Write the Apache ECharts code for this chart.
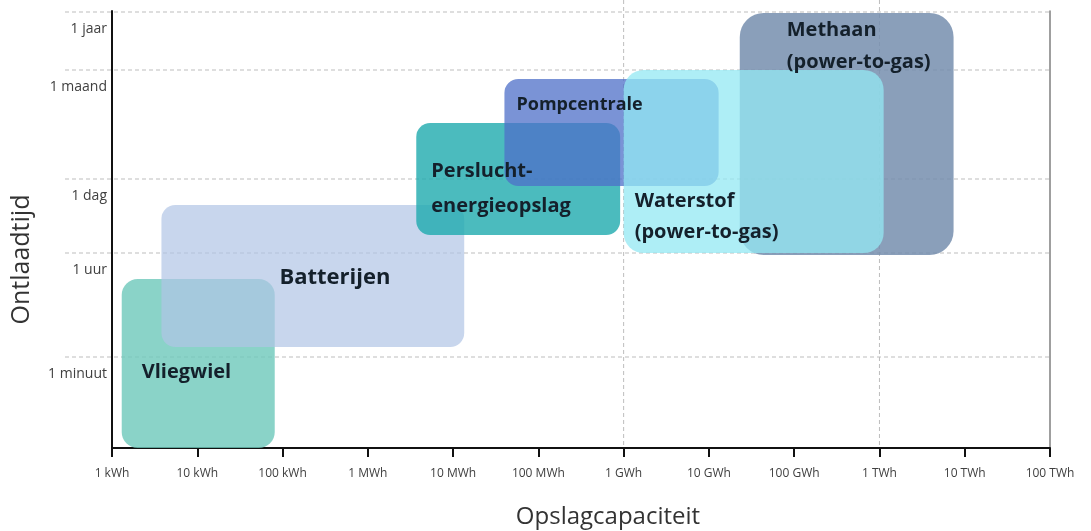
<!DOCTYPE html>
<html>
<head>
<meta charset="utf-8">
<script src="https://cdn.jsdelivr.net/npm/echarts@6/dist/echarts.min.js"></script>
<style>
  html, body { margin: 0; padding: 0; background: #fff; }
  #chart { width: 1091px; height: 531px; }
</style>
</head>
<body>
<div id="chart"></div>
<script>
// storage technologies, in drawing order
const techNames = [
  "Vliegwiel",
  "Batterijen",
  "Perslucht-\nenergieopslag",
  "Methaan\n(power-to-gas)",
  "Pompcentrale",
  "Waterstof\n(power-to-gas)",
];
// storage capacity range in kWh
const capMin = [1.3, 3.8, 3700, 2.3e7, 4.0e4, 1.0e6];
const capMax = [81, 1.35e4, 9.1e5, 7.4e9, 1.3e7, 1.12e9];
// discharge time range, in units of the (non-uniform) time scale
const timeMin = [0, 101, 213, 193, 262, 195];
const timeMax = [169, 243, 325, 435, 369, 378];

// axis ticks
const capLabels = [
  "1 kWh", "10 kWh", "100 kWh", "1 MWh", "10 MWh", "100 MWh",
  "1 GWh", "10 GWh", "100 GWh", "1 TWh", "10 TWh", "100 TWh",
];
const timeLabels = ["1 minuut", "1 uur", "1 dag", "1 maand", "1 jaar"];
const timeLevels = [91, 195, 269, 378, 436];
const capGridLines = [1e6, 1e9]; // dashed verticals at 1 GWh and 1 TWh

// look of each box: fill, corner radius, label font size, label offset from top-left
const boxStyle = [
  { color: "rgba(109,200,186,0.8)", r: 16, size: 20, dx: 20, dy: 80, lh: 26 },
  { color: "rgba(176,196,229,0.7)", r: 14, size: 22, dx: 118, dy: 59, lh: 28 },
  { color: "rgba(30,170,174,0.8)", r: 14, size: 20, dx: 15, dy: 31, lh: 35 },
  { color: "rgba(117,142,174,0.85)", r: 24, size: 20, dx: 47, dy: 1, lh: 32 },
  { color: "rgba(78,111,200,0.75)", r: 14, size: 18, dx: 12, dy: 14, lh: 24 },
  { color: "rgba(147,232,243,0.75)", r: 20, size: 20, dx: 11, dy: 116, lh: 31 },
];

const boxData = techNames.map((name, i) => [
  Math.log10(capMin[i]),
  Math.log10(capMax[i]),
  timeMin[i],
  timeMax[i],
  i,
]);

const gridDash = { stroke: "#bdbdbd", lineWidth: 1, lineDash: [4, 3] };

const chart = echarts.init(document.getElementById("chart"), null, {
  renderer: "canvas",
});

const option = {
  backgroundColor: "#fff",
  animation: false,
  textStyle: { fontFamily: "Open Sans" },
  grid: {
    left: 112,
    right: 41,
    top: 11,
    bottom: 83,
    containLabel: false,
    outerBoundsMode: "none",
  },
  xAxis: {
    type: "value",
    min: 0,
    max: 11,
    interval: 1,
    name: "Opslagcapaciteit",
    nameLocation: "middle",
    nameGap: 57,
    nameTextStyle: { fontSize: 24, color: "#333", padding: [0, 0, 0, 54] },
    axisLine: { lineStyle: { color: "#111", width: 2 } },
    axisTick: { show: true, length: 9, lineStyle: { color: "#111", width: 2 } },
    axisLabel: {
      margin: 20,
      fontSize: 12,
      color: "#404040",
      formatter: (v) => capLabels[Math.round(v)],
    },
    splitLine: { show: false },
  },
  yAxis: [
    {
      type: "value",
      min: 0,
      max: 437,
      name: "Ontlaadtijd",
      nameLocation: "middle",
      nameGap: 78,
      nameTextStyle: { fontSize: 25, color: "#333", padding: [0, 60, 0, 0] },
      axisLine: { show: true, lineStyle: { color: "#111", width: 2 } },
      axisTick: { show: false },
      axisLabel: {
        customValues: timeLevels,
        margin: 5,
        fontSize: 14,
        color: "#404040",
        verticalAlign: "top",
        padding: [10, 0, 0, 0],
        formatter: (v) => timeLabels[timeLevels.indexOf(v)],
      },
      splitLine: { show: false },
    },
    {
      type: "value",
      position: "right",
      min: 0,
      max: 437,
      axisLine: { show: true, lineStyle: { color: "#7f7f7f", width: 1.5 } },
      axisTick: { show: false },
      axisLabel: { show: false },
      splitLine: { show: false },
    },
  ],
  series: [
    {
      // horizontal dashed reference lines, reaching past the axis
      type: "custom",
      silent: true,
      data: timeLevels.map((v) => [v]),
      renderItem: (params, api) => {
        const left = api.coord([0, api.value(0)]);
        const right = api.coord([11, api.value(0)]);
        return {
          type: "line",
          shape: { x1: left[0] - 47, y1: left[1], x2: right[0], y2: right[1] },
          style: gridDash,
        };
      },
    },
    {
      // vertical dashed reference lines
      type: "custom",
      silent: true,
      data: capGridLines.map((v) => [Math.log10(v)]),
      renderItem: (params, api) => {
        const top = api.coord([api.value(0), 437]);
        const bottom = api.coord([api.value(0), 0]);
        return {
          type: "line",
          shape: { x1: top[0], y1: top[1] - 11, x2: bottom[0], y2: bottom[1] },
          style: gridDash,
        };
      },
    },
    {
      type: "custom",
      silent: true,
      data: boxData,
      renderItem: (params, api) => {
        const i = api.value(4);
        const s = boxStyle[i];
        const tl = api.coord([api.value(0), api.value(3)]);
        const br = api.coord([api.value(1), api.value(2)]);
        return {
          type: "group",
          children: [
            {
              type: "rect",
              shape: {
                x: tl[0],
                y: tl[1],
                width: br[0] - tl[0],
                height: br[1] - tl[1],
                r: s.r,
              },
              style: { fill: s.color },
            },
            {
              type: "text",
              z2: 100,
              style: {
                text: techNames[i],
                x: tl[0] + s.dx,
                y: tl[1] + s.dy,
                fill: "#14202b",
                font: `bold ${s.size}px "Open Sans"`,
                lineHeight: s.lh,
                verticalAlign: "top",
                align: "left",
              },
            },
          ],
        };
      },
    },
  ],
};

chart.setOption(option);
</script>
</body>
</html>
